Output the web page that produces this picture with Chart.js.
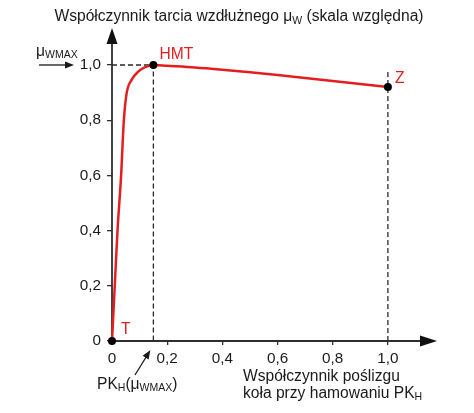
<!DOCTYPE html>
<html>
<head>
<meta charset="utf-8">
<script src="https://cdn.jsdelivr.net/npm/chart.js@4.4.1/dist/chart.umd.min.js"></script>
<style>
html,body{margin:0;padding:0;background:#fff;}
#wrap{width:474px;height:413px;position:relative;}
</style>
</head>
<body>
<div id="wrap"><canvas id="c" width="474" height="413"></canvas></div>
<script>
// ---- data ----
const slipX = [0, 0.01, 0.02, 0.033, 0.043, 0.053, 0.071, 0.095, 0.12, 0.15, 0.2, 0.3, 0.4, 0.5, 0.6, 0.7, 0.8, 0.9, 1.0];
const muY   = [0, 0.2, 0.4, 0.6, 0.8, 0.897, 0.946, 0.976, 0.992, 1.0, 0.997, 0.991, 0.983, 0.974, 0.964, 0.953, 0.942, 0.931, 0.92];
const markerX = [0, 0.15, 1.0];
const markerY = [0, 1.0, 0.92];
const markerNames = ['T', 'HMT', 'Z'];
const zDashTop = 0.975;
const xTicks = [0, 0.2, 0.4, 0.6, 0.8, 1.0];
const xTickLabels = ['0', '0,2', '0,4', '0,6', '0,8', '1,0'];
const yTicks = [0, 0.2, 0.4, 0.6, 0.8, 1.0];
const yTickLabels = ['0', '0,2', '0,4', '0,6', '0,8', '1,0'];
const xMax = 1.178, yMax = 1.134;

const RED = '#e41e20';
const INK = '#1a1a1a';
const AX = '#2e2e2e';
const FONT = '"Liberation Sans", Arial, sans-serif';
const FS = 15.6;

function richText(ctx, parts, x, y, align) {
  let w = 0;
  parts.forEach(p => { ctx.font = p.s + 'px ' + FONT; p.w = ctx.measureText(p.t).width; w += p.w; });
  let cx = align === 'center' ? x - w / 2 : x;
  ctx.textAlign = 'left';
  ctx.textBaseline = 'alphabetic';
  parts.forEach(p => { ctx.font = p.s + 'px ' + FONT; ctx.fillText(p.t, cx, y + (p.dy || 0)); cx += p.w; });
}
function arrowHead(ctx, x, y, ang, len, half) {
  ctx.save();
  ctx.translate(x, y); ctx.rotate(ang);
  ctx.beginPath(); ctx.moveTo(0, 0); ctx.lineTo(-len, -half); ctx.lineTo(-len, half); ctx.closePath(); ctx.fill();
  ctx.restore();
}

const decor = {
  id: 'decor',
  beforeDatasetsDraw(chart) {
    const ctx = chart.ctx, xs = chart.scales.x, ys = chart.scales.y;
    const x0 = xs.getPixelForValue(0), y0 = ys.getPixelForValue(0);
    const xe = xs.getPixelForValue(xMax), ye = ys.getPixelForValue(yMax);
    ctx.save();
    ctx.strokeStyle = AX; ctx.fillStyle = '#111'; ctx.lineWidth = 1.8;
    ctx.beginPath(); ctx.moveTo(x0, y0); ctx.lineTo(x0, ye + 10); ctx.stroke();
    ctx.beginPath(); ctx.moveTo(x0, y0); ctx.lineTo(xe - 10, y0); ctx.stroke();
    arrowHead(ctx, x0, ye, -Math.PI / 2, 16, 5.5);
    arrowHead(ctx, xe, y0, 0, 17, 5.5);
    ctx.restore();
  },
  afterDatasetsDraw(chart) {
    const ctx = chart.ctx, xs = chart.scales.x, ys = chart.scales.y;
    const px = v => xs.getPixelForValue(v), py = v => ys.getPixelForValue(v);
    ctx.save();
    ctx.fillStyle = INK;
    // title
    richText(ctx, [{t: 'Współczynnik tarcia wzdłużnego μ', s: FS}, {t: 'W', s: 10.5, dy: 3}, {t: ' (skala względna)', s: FS}], 239, 21, 'center');
    // mu WMAX with arrow
    richText(ctx, [{t: 'μ', s: FS}, {t: 'WMAX', s: 10.5, dy: 2}], 36, 56, 'left');
    ctx.strokeStyle = INK; ctx.lineWidth = 1.3;
    ctx.beginPath(); ctx.moveTo(39, py(1.0)); ctx.lineTo(66, py(1.0)); ctx.stroke();
    arrowHead(ctx, 74, py(1.0), 0, 9, 3.5);
    // PKH(muWMAX) with arrow
    richText(ctx, [{t: 'PK', s: FS}, {t: 'H', s: 10.5, dy: 2}, {t: '(μ', s: FS}, {t: 'WMAX', s: 10.5, dy: 2}, {t: ')', s: FS}], 97, 389, 'left');
    const ax1 = 135, ay1 = 375, ax2 = px(markerX[1]) - 3, ay2 = py(0) + 9;
    ctx.beginPath(); ctx.moveTo(ax1, ay1); ctx.lineTo(ax2 - 3, ay2 + 5); ctx.stroke();
    arrowHead(ctx, ax2, ay2, Math.atan2(ay2 - ay1, ax2 - ax1), 9, 3.5);
    // x axis title
    richText(ctx, [{t: 'Współczynnik poślizgu', s: FS}], 243, 381, 'left');
    richText(ctx, [{t: 'koła przy hamowaniu PK', s: FS}, {t: 'H', s: 10.5, dy: 2}], 243, 398, 'left');
    // red labels
    ctx.fillStyle = RED;
    ctx.font = FS + 'px ' + FONT; ctx.textAlign = 'left'; ctx.textBaseline = 'alphabetic';
    ctx.fillText(markerNames[1], px(markerX[1]) + 6, py(markerY[1]) - 6);
    ctx.fillText(markerNames[2], px(markerX[2]) + 7, py(markerY[2]) - 4);
    ctx.fillText(markerNames[0], px(markerX[0]) + 9, py(markerY[0]) - 7);
    ctx.restore();
  }
};

const curve = slipX.map((x, i) => ({x, y: muY[i]}));
const markers = markerX.map((x, i) => ({x, y: markerY[i]}));
const dashHMT = [{x: 0, y: markerY[1]}, {x: markerX[1], y: markerY[1]}, {x: markerX[1], y: 0}];
const dashZ = [{x: markerX[2], y: zDashTop}, {x: markerX[2], y: 0}];

new Chart(document.getElementById('c'), {
  type: 'scatter',
  data: {
    datasets: [
      {data: markers, showLine: false, pointRadius: 4, pointBackgroundColor: '#000', pointBorderColor: '#000', pointBorderWidth: 0, order: 0, clip: false},
      {data: curve, showLine: true, borderColor: RED, borderWidth: 2.5, pointRadius: 0, cubicInterpolationMode: 'monotone', order: 1, clip: false},
      {data: dashHMT, showLine: true, borderColor: '#2a2a2a', borderWidth: 1.3, borderDash: [5, 3], pointRadius: 0, tension: 0, order: 2},
      {data: dashZ, showLine: true, borderColor: '#2a2a2a', borderWidth: 1.3, borderDash: [5, 3], pointRadius: 0, tension: 0, order: 2}
    ]
  },
  options: {
    responsive: false,
    animation: false,
    devicePixelRatio: 1,
    layout: {padding: {top: 28, right: 37, left: 0, bottom: 0}},
    plugins: {legend: {display: false}, tooltip: {enabled: false}, title: {display: false}},
    scales: {
      x: {
        type: 'linear', min: 0, max: xMax,
        afterBuildTicks: s => { s.ticks = xTicks.map(v => ({value: v})); },
        afterFit: s => { s.height = 72; },
        border: {display: false},
        grid: {display: true, drawOnChartArea: false, drawTicks: true, tickLength: 4, color: AX, lineWidth: 1.3},
        ticks: {autoSkip: false, maxRotation: 0, padding: 5, color: INK, font: {family: FONT, size: 15.3},
                callback: (v, i) => xTickLabels[i]}
      },
      y: {
        type: 'linear', min: 0, max: yMax,
        afterBuildTicks: s => { s.ticks = yTicks.map(v => ({value: v})); },
        afterFit: s => { s.width = 112; },
        border: {display: false},
        grid: {display: true, drawOnChartArea: false, drawTicks: true, tickLength: 5, color: AX, lineWidth: 1.3},
        ticks: {autoSkip: false, padding: 6, color: INK, font: {family: FONT, size: 15.3},
                callback: (v, i) => yTickLabels[i]}
      }
    }
  },
  plugins: [decor]
});
</script>
</body>
</html>
